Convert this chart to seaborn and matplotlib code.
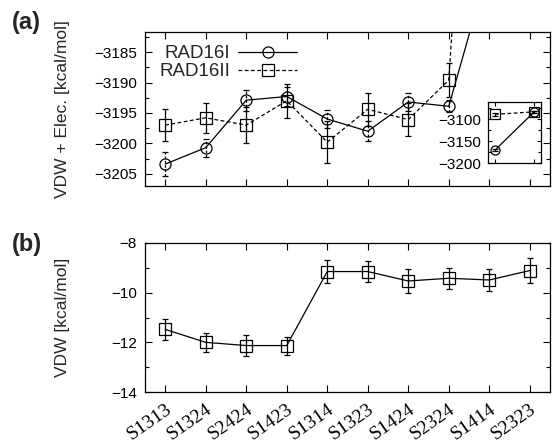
import matplotlib
matplotlib.use("Agg")
import matplotlib.pyplot as plt
from matplotlib.lines import Line2D
from matplotlib.ticker import MultipleLocator
import matplotlib.transforms as mtransforms
import seaborn as sns
import pandas as pd

categories = ["S1313", "S1324", "S2424", "S1423", "S1314",
              "S1323", "S1424", "S2324", "S1414", "S2323"]
rad16i = [-3203.4, -3200.7, -3192.9, -3192.3, -3196.0,
          -3198.0, -3193.2, -3193.9, -3170.5, -3084.0]
rad16i_err = [2.0, 1.5, 1.7, 1.5, 1.5, 1.6, 1.4, 1.0, 3.0, 3.0]
rad16ii = [-3197.0, -3195.8, -3197.0, -3193.0, -3199.8,
           -3194.4, -3196.1, -3189.6, -3089.0, -3083.5]
rad16ii_err = [2.6, 2.5, 2.9, 2.8, 3.5, 2.7, 2.7, 2.8, 3.0, 3.0]
vdw = [-11.48, -12.0, -12.13, -12.13, -9.15,
       -9.15, -9.53, -9.42, -9.49, -9.11]
vdw_err = [0.43, 0.37, 0.43, 0.36, 0.45, 0.43, 0.5, 0.43, 0.43, 0.5]
series_names = ["RAD16I", "RAD16II"]

sns.set_style("ticks")
plt.rcParams["font.family"] = ["Liberation Sans", "DejaVu Sans"]

df_a = pd.DataFrame({
    "cat": categories * 2,
    "val": rad16i + rad16ii,
    "err": rad16i_err + rad16ii_err,
    "series": [series_names[0]] * len(categories) + [series_names[1]] * len(categories),
})
df_b = pd.DataFrame({"cat": categories, "val": vdw, "err": vdw_err})

fig = plt.figure(figsize=(5.52, 4.47), dpi=100)
ax1 = fig.add_axes([0.2627, 0.5839, 0.7337, 0.3445])
ax2 = fig.add_axes([0.2627, 0.1230, 0.7337, 0.3334])
axin = fig.add_axes([0.884, 0.6353, 0.096, 0.1365])

markers = {series_names[0]: "o", series_names[1]: "s"}
dashes = {series_names[0]: "", series_names[1]: (3, 2)}
lw = 0.9


def draw_a(ax, data, ms):
    for name in series_names:
        sub = data[data["series"] == name]
        eb = ax.errorbar(sub["cat"], sub["val"], yerr=sub["err"], fmt="none",
                         ecolor="black", elinewidth=lw, capsize=2, capthick=lw)
        if name == series_names[0]:
            eb[2][0].set_linestyle((0, (2, 1.5)))
    sns.lineplot(data=data, x="cat", y="val", style="series", markers=markers,
                 dashes=dashes, color="black", linewidth=lw, markersize=ms,
                 markerfacecolor="none", markeredgecolor="black",
                 markeredgewidth=lw, legend=False, ax=ax, sort=False)


draw_a(ax1, df_a, 8)
ax1.set_xlim(-0.5, 9.5)
ax1.set_ylim(-3207, -3181.7)
ax1.yaxis.set_major_locator(MultipleLocator(5))
ax1.yaxis.set_minor_locator(MultipleLocator(2.5))
ax1.set_xticks(range(len(categories)))
ax1.set_xticklabels([])
ax1.set_xlabel("")
ax1.set_ylabel("VDW + Elec. [kcal/mol]", fontsize=12.5)
ax1.yaxis.set_label_coords(-0.185, 0.5)

handles = [Line2D([], [], color="black", lw=lw, marker="o", ms=8, mfc="none",
                  mec="black", mew=lw, linestyle="-"),
           Line2D([], [], color="black", lw=lw, marker="s", ms=8, mfc="none",
                  mec="black", mew=lw, linestyle=(0, (3, 2)))]
ax1.legend(handles, series_names, loc="upper left", bbox_to_anchor=(0.035, 0.915),
           frameon=False, markerfirst=False, handlelength=3.1, handletextpad=0.45,
           borderpad=0, borderaxespad=0, labelspacing=0.05, fontsize=13.5)

# inset with the off-scale points
df_in = df_a[df_a["cat"].isin(categories[-2:])]
draw_a(axin, df_in, 6.5)
axin.set_xlim(-0.18, 1.18)
axin.set_ylim(-3200, -3061)
axin.yaxis.set_major_locator(MultipleLocator(50))
axin.yaxis.set_minor_locator(MultipleLocator(25))
axin.set_xticks([0, 1])
axin.set_xticklabels([])
axin.set_xlabel("")
axin.set_ylabel("")

# panel b
sns.lineplot(data=df_b, x="cat", y="val", marker="s", color="black", linewidth=lw,
             markersize=8, markerfacecolor="none", markeredgecolor="black",
             markeredgewidth=lw, ax=ax2, sort=False)
ax2.errorbar(df_b["cat"], df_b["val"], yerr=df_b["err"], fmt="none",
             ecolor="black", elinewidth=lw, capsize=2, capthick=lw)
ax2.set_xlim(-0.5, 9.5)
ax2.set_ylim(-14, -8)
ax2.yaxis.set_major_locator(MultipleLocator(2))
ax2.yaxis.set_minor_locator(MultipleLocator(1))
ax2.set_xlabel("")
ax2.set_ylabel("VDW [kcal/mol]", fontsize=12.5)
ax2.yaxis.set_label_coords(-0.185, 0.5)
ax2.set_xticks(range(len(categories)))
ax2.set_xticklabels(categories, rotation=35, ha="right", rotation_mode="anchor",
                    fontsize=14, family=["Liberation Serif", "DejaVu Serif"])
offset = mtransforms.ScaledTranslation(6 / 72, 0, fig.dpi_scale_trans)
for lab in ax2.get_xticklabels():
    lab.set_transform(lab.get_transform() + offset)

for ax in (ax1, ax2, axin):
    for sp in ax.spines.values():
        sp.set_visible(True)
        sp.set_linewidth(0.9)
        sp.set_color("black")
    ax.tick_params(which="both", direction="in", top=True, right=True,
                   width=0.8, colors="black")
    ax.tick_params(which="major", length=5, labelsize=11, pad=6)
    ax.tick_params(which="minor", length=3)
    ax.grid(False)
ax2.tick_params(axis="x", which="major", pad=6, labelsize=14)
axin.tick_params(which="major", length=3, pad=5)
axin.tick_params(which="minor", length=2)

fig.text(26 / 552, 1 - 23 / 447, "(a)", fontsize=17, fontweight="bold",
         ha="center", va="center")
fig.text(27 / 552, 1 - 245 / 447, "(b)", fontsize=17, fontweight="bold",
         ha="center", va="center")

fig.savefig("out.png", dpi=100)
